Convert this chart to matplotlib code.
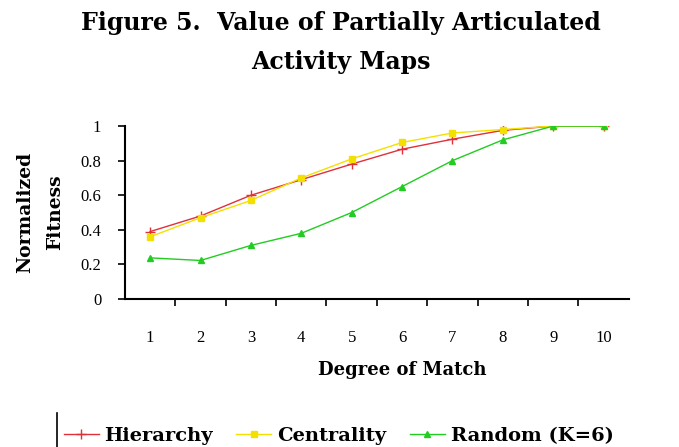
import matplotlib.pyplot as plt
import numpy as np

# data
degree = [1, 2, 3, 4, 5, 6, 7, 8, 9, 10]
hierarchy = [0.39, 0.48, 0.60, 0.69, 0.78, 0.866, 0.924, 0.975, 1.0, 1.0]
centrality = [0.36, 0.47, 0.57, 0.70, 0.81, 0.905, 0.96, 0.98, 1.0, 1.0]
random_k6 = [0.238, 0.223, 0.31, 0.38, 0.50, 0.65, 0.80, 0.92, 1.0, 1.0]

plt.rcParams['font.family'] = ['Liberation Serif', 'DejaVu Serif']
bold_font = ['DejaVu Serif']

fig = plt.figure(figsize=(6.79, 4.47), dpi=100)
ax = fig.add_axes([0.184, 0.331, 0.742, 0.387])

ax.plot(degree, hierarchy, color='#e0303a', linewidth=1, marker='+',
        markersize=7, label='Hierarchy')
ax.plot(degree, centrality, color='#f4e000', linewidth=1, marker='s',
        markersize=5, label='Centrality')
ax.plot(degree, random_k6, color='#22cc22', linewidth=1, marker='^',
        markersize=5, label='Random (K=6)')

ax.set_xlim(0.5, 10.5)
ax.set_ylim(0, 1)
ax.set_yticks([0, 0.2, 0.4, 0.6, 0.8, 1])
ax.set_yticklabels(['0', '0.2', '0.4', '0.6', '0.8', '1'])
ax.set_xticks(degree)
ax.set_xticks(np.arange(1.5, 10.5, 1), minor=True)
ax.tick_params(axis='x', which='major', length=0, labelsize=12, pad=22)
ax.tick_params(axis='x', which='minor', length=5, width=1.2, direction='out')
ax.tick_params(axis='y', length=5, width=1.2, labelsize=12, pad=12)

for s in ['top', 'right']:
    ax.spines[s].set_visible(False)
ax.spines['left'].set_linewidth(1.5)
ax.spines['bottom'].set_linewidth(1.5)

ax.set_xlabel('Degree of Match', fontsize=13, fontweight='bold',
              family=bold_font)
ax.xaxis.set_label_coords(0.55, -0.36)
ax.set_ylabel('Normalized\nFitness', fontsize=13.5, fontweight='bold',
              family=bold_font, linespacing=1.9)
ax.yaxis.set_label_coords(-0.12, 0.5)

fig.text(0.502, 0.975, 'Figure 5.  Value of Partially Articulated\nActivity Maps',
         ha='center', va='top', fontsize=17, fontweight='bold',
         family=bold_font, linespacing=1.8)

leg = ax.legend(loc='upper center', bbox_to_anchor=(0.424, -0.64), ncol=3,
                frameon=False, handlelength=1.8, handletextpad=0.3,
                columnspacing=1.2,
                prop={'weight': 'bold', 'size': 14, 'family': bold_font})
fig.add_artist(plt.Line2D([0.084, 0.084], [0.0, 0.075], color='black', linewidth=1.2))

plt.savefig('out.png', dpi=100)
